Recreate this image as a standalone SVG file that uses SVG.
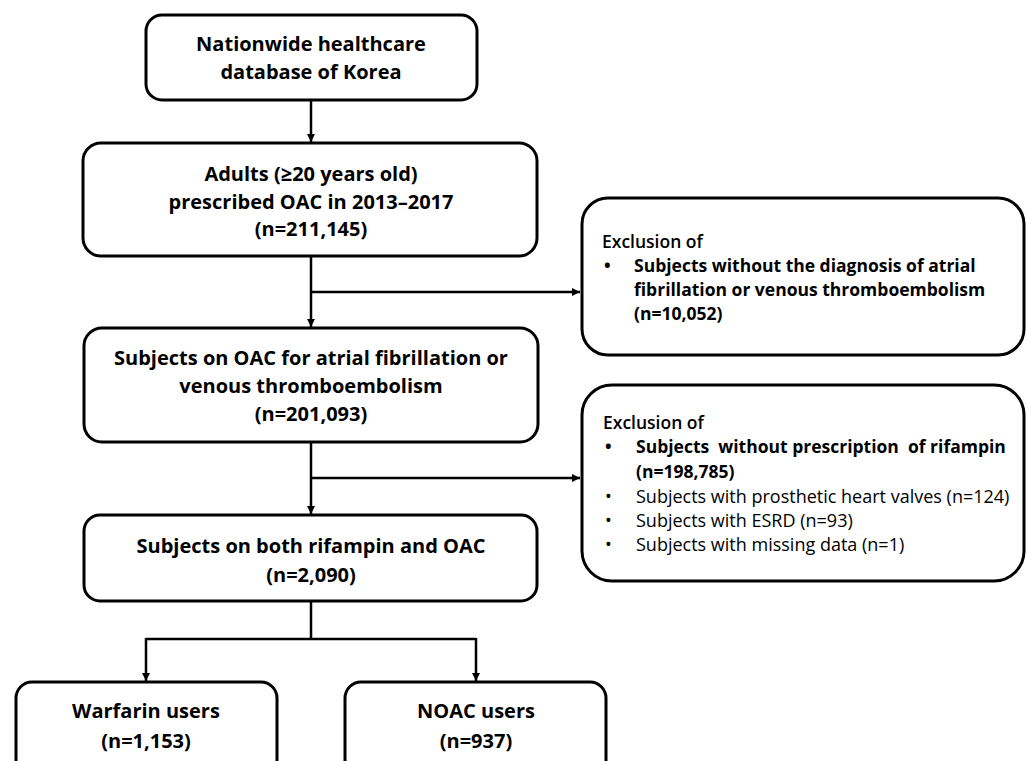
<svg xmlns="http://www.w3.org/2000/svg" width="1027" height="761" viewBox="0 0 1027 761">
<style>
.box{fill:#fff;stroke:#000;stroke-width:3}
.t{font-family:"Open Sans","Liberation Sans",sans-serif;font-size:20px;font-weight:bold;fill:#000;text-anchor:middle}
.e{font-family:"Open Sans","Liberation Sans",sans-serif;font-size:17.5px;fill:#000;white-space:pre}
.b{font-weight:bold}
.s{font-weight:600}
.r{font-size:18px}
.c{fill:none;stroke:#000;stroke-width:2.5}
</style>
<defs>
<marker id="ah" viewBox="0 0 10 10" refX="10" refY="5" markerWidth="3.4" markerHeight="3.4" orient="auto" markerUnits="strokeWidth">
<path d="M0,0 L10,5 L0,10 z" fill="#000"/>
</marker>
</defs>
<g id="connectors">
<path class="c" d="M311,100 V142" marker-end="url(#ah)"/>
<path class="c" d="M311,256 V327" marker-end="url(#ah)"/>
<path class="c" d="M311,292 H580" marker-end="url(#ah)"/>
<path class="c" d="M311,442 V514" marker-end="url(#ah)"/>
<path class="c" d="M311,478 H580" marker-end="url(#ah)"/>
<path class="c" d="M311,601 V639 M146,639 H476"/>
<path class="c" d="M146,638 V681" marker-end="url(#ah)"/>
<path class="c" d="M476,638 V681" marker-end="url(#ah)"/>
</g>
<g id="n1">
<rect class="box" x="146" y="15" width="331" height="85" rx="16"/>
<text class="t" x="311" y="51">Nationwide healthcare</text>
<text class="t" x="311" y="79">database of Korea</text>
</g>
<g id="n2">
<rect class="box" x="83" y="143" width="454" height="113" rx="18"/>
<text class="t" x="311" y="181">Adults (≥20 years old)</text>
<text class="t" x="311" y="209">prescribed OAC in 2013–2017</text>
<text class="t" x="311" y="236">(n=211,145)</text>
</g>
<g id="ex1">
<rect class="box" x="582" y="198" width="442" height="157" rx="26"/>
<text class="e s" x="602" y="248">Exclusion of</text>
<text class="e b" x="604" y="272">•</text>
<text class="e b" x="634" y="272">Subjects without the diagnosis of atrial</text>
<text class="e b" x="634" y="296">fibrillation or venous thromboembolism</text>
<text class="e b" x="634" y="320">(n=10,052)</text>
</g>
<g id="n3">
<rect class="box" x="84" y="328" width="454" height="114" rx="18"/>
<text class="t" x="311" y="365">Subjects on OAC for atrial fibrillation or</text>
<text class="t" x="311" y="393">venous thromboembolism</text>
<text class="t" x="311" y="421">(n=201,093)</text>
</g>
<g id="ex2">
<rect class="box" x="582" y="385" width="442" height="196" rx="30"/>
<text class="e s" x="603" y="429">Exclusion of</text>
<text class="e b" x="605" y="453">•</text>
<text class="e b" x="636" y="453">Subjects  without prescription  of rifampin</text>
<text class="e b" x="636" y="478">(n=198,785)</text>
<text class="e r" x="605" y="503">•</text>
<text class="e r" x="636" y="503">Subjects with prosthetic heart valves (n=124)</text>
<text class="e r" x="605" y="527">•</text>
<text class="e r" x="636" y="527">Subjects with ESRD (n=93)</text>
<text class="e r" x="605" y="551">•</text>
<text class="e r" x="636" y="551">Subjects with missing data (n=1)</text>
</g>
<g id="n4">
<rect class="box" x="84" y="515" width="453" height="86" rx="16"/>
<text class="t" x="311" y="553">Subjects on both rifampin and OAC</text>
<text class="t" x="311" y="582">(n=2,090)</text>
</g>
<g id="n5">
<rect class="box" x="16" y="682" width="261" height="95" rx="16"/>
<text class="t" x="146" y="718">Warfarin users</text>
<text class="t" x="146" y="748">(n=1,153)</text>
</g>
<g id="n6">
<rect class="box" x="345" y="682" width="261" height="95" rx="16"/>
<text class="t" x="476" y="718">NOAC users</text>
<text class="t" x="476" y="748">(n=937)</text>
</g>
</svg>
